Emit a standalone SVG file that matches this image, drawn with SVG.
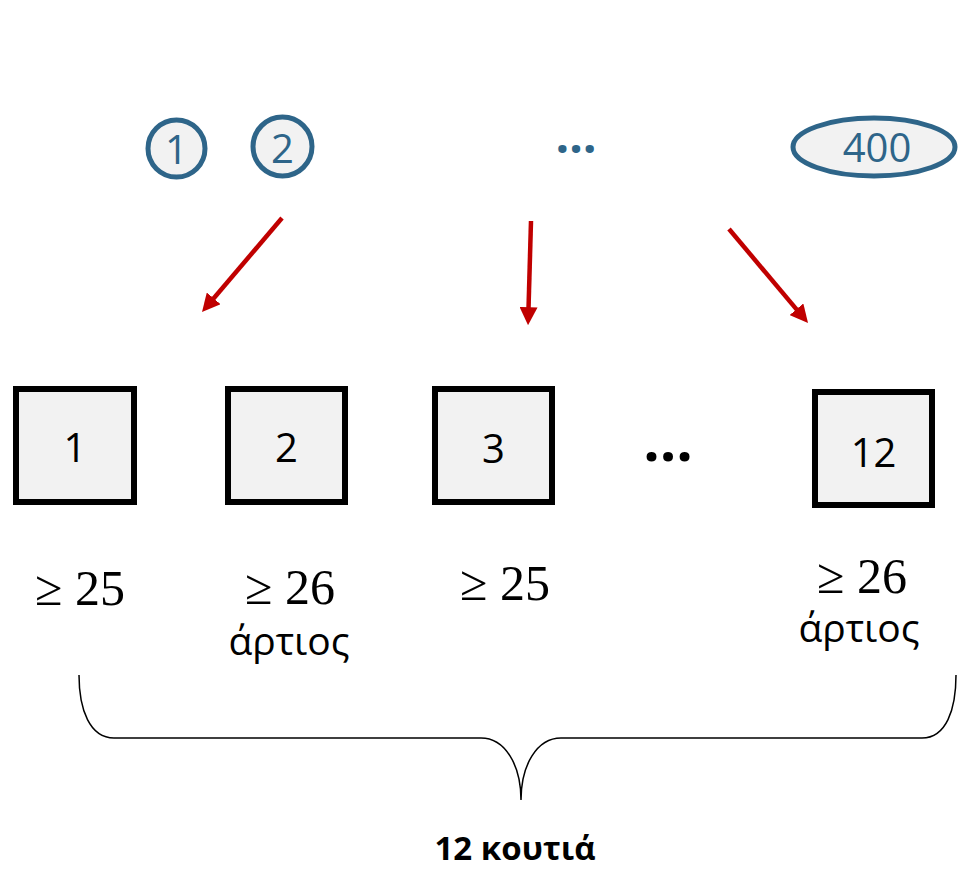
<svg xmlns="http://www.w3.org/2000/svg" width="958" height="869" viewBox="0 0 958 869">
<style>
.tok{fill:#F2F2F2;stroke:#2E6589;stroke-width:5}
.tokt{font-family:"Open Sans","Liberation Sans",sans-serif;font-size:40px;fill:#2E6589;text-anchor:middle}
.box{fill:#F2F2F2;stroke:#000;stroke-width:6}
.boxt{font-family:"Open Sans","Liberation Sans",sans-serif;font-size:40px;fill:#000;text-anchor:middle}
.ge{font-family:"Liberation Serif","DejaVu Serif",serif;font-size:50px;fill:#000;text-anchor:middle}
.gr{font-family:"Open Sans","Liberation Sans",sans-serif;font-size:39px;fill:#000;text-anchor:middle}
.arr{stroke:#C00000;stroke-width:4.5;fill:none;marker-end:url(#ah)}
</style>
<defs>
<marker id="ah" viewBox="0 0 10 10" refX="1" refY="5" markerWidth="4" markerHeight="4" orient="auto" markerUnits="strokeWidth">
<path d="M0,0 L10,5 L0,10 z" fill="#C00000"/>
</marker>
</defs>
<rect width="958" height="869" fill="#fff"/>
<g id="token1"><circle class="tok" cx="176.5" cy="148.5" r="28.5"/><text class="tokt" x="176.5" y="164">1</text></g>
<g id="token2"><circle class="tok" cx="282.5" cy="146.5" r="29.5"/><text class="tokt" x="282.5" y="163">2</text></g>
<g id="token-dots"><text x="576" y="153" style="font-family:'Open Sans',sans-serif;font-size:48px;font-weight:bold;fill:#2E6589;text-anchor:middle">…</text></g>
<g id="token400"><ellipse class="tok" cx="874" cy="147" rx="81" ry="29"/><text class="tokt" x="877" y="162">400</text></g>
<g id="connectors">
<path class="arr" d="M282,218 L212.5,299.7"/>
<path class="arr" d="M531,221 L528.5,309"/>
<path class="arr" d="M729,229 L797.6,310.6"/>
<path d="M79,675 C79,710 90,738 114,738 L481,738 C505,738 521,765 521,800 C521,765 537,738 561,738 L922,738 C946,738 956,710 956,675" fill="none" stroke="#000" stroke-width="1.5"/>
</g>
<g id="box1"><rect class="box" x="16" y="389" width="118" height="113"/><text class="boxt" x="75" y="462">1</text></g>
<g id="box2"><rect class="box" x="228" y="389" width="117" height="113"/><text class="boxt" x="286.5" y="462">2</text></g>
<g id="box3"><rect class="box" x="435" y="389" width="117" height="113"/><text class="boxt" x="493.5" y="463">3</text></g>
<g id="box-dots"><text x="668" y="461" style="font-family:'Open Sans',sans-serif;font-weight:bold;font-size:58px;fill:#000;text-anchor:middle">…</text></g>
<g id="box12"><rect class="box" x="815" y="392" width="117" height="113"/><text class="boxt" x="873.5" y="467">12</text></g>
<g id="label1"><text class="ge" x="80" y="605">≥ 25</text></g>
<g id="label2"><text class="ge" x="290" y="604">≥ 26</text><text class="gr" x="289" y="655">άρτιος</text></g>
<g id="label3"><text class="ge" x="505" y="600">≥ 25</text></g>
<g id="label4"><text class="ge" x="862" y="593">≥ 26</text><text class="gr" x="859" y="642">άρτιος</text></g>
<g id="caption"><text x="515" y="860" style="font-family:'Open Sans','Liberation Sans',sans-serif;font-weight:bold;font-size:33px;text-anchor:middle">12 κουτιά</text></g>
</svg>
